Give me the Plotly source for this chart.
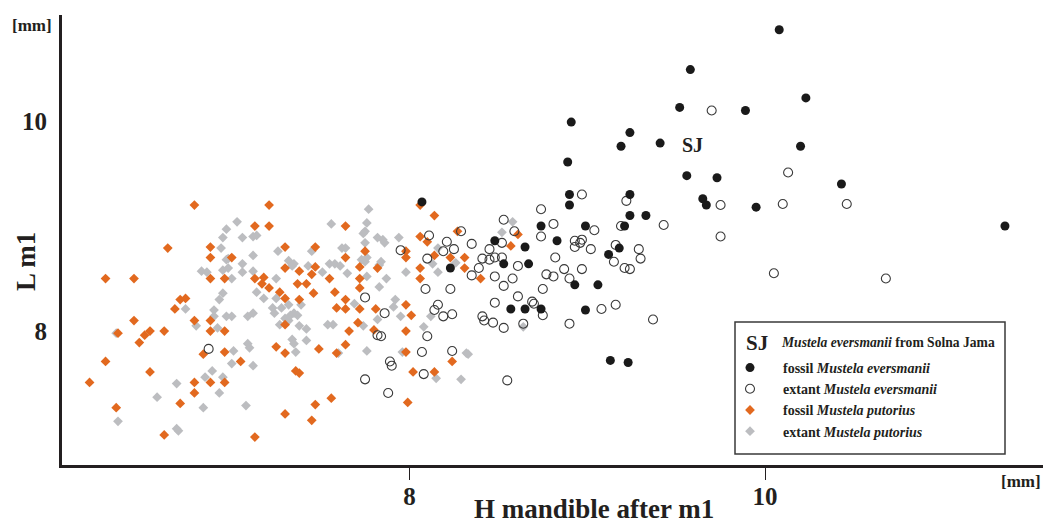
import plotly.graph_objects as go

# ---------------- data ----------------
# fossil Mustela eversmanii (filled black circles)
fe_x = [8.07, 8.23, 8.48, 8.65, 8.53, 8.67, 8.74, 8.83, 8.90, 8.90, 8.93, 8.57, 8.65, 8.74,
        9.13, 9.23, 9.24, 9.24, 9.33, 8.99, 9.21, 9.65, 9.67, 9.18, 9.12, 9.06, 8.99,
        10.08, 9.58, 10.23, 9.52, 9.89, 8.91, 9.24, 9.19, 9.41, 10.20, 9.56, 9.73, 10.43,
        9.95, 11.35, 8.89]
fe_y = [9.23, 8.60, 8.86, 8.80, 8.64, 8.64, 9.00, 8.86, 9.30, 9.20, 8.44, 8.21, 8.21, 8.21,
        7.72, 7.70, 9.30, 9.10, 9.10, 9.00, 9.00, 9.26, 9.20, 8.79, 8.73, 8.44, 8.20,
        10.87, 10.49, 10.22, 10.13, 10.10, 9.99, 9.89, 9.76, 9.79, 9.76, 9.48, 9.46, 9.40,
        9.18, 9.00, 9.61]

# extant Mustela eversmanii (open circles)
ee_x = [6.87, 7.95, 7.75, 7.86, 7.82, 7.84, 7.89, 7.90, 7.75, 7.88,
        8.74, 8.53, 8.81, 8.59, 8.74, 8.29, 8.11, 8.21, 8.35, 8.52, 8.93, 8.93,
        8.25, 8.19, 8.10, 8.45, 8.41, 8.45, 8.48, 8.52, 8.82, 8.61, 8.39, 8.35,
        8.48, 8.58, 8.77, 8.81, 8.87, 8.90, 8.53, 8.75, 8.09, 8.23, 8.61, 8.48,
        8.69, 8.70, 8.16, 8.14, 8.19, 8.24, 8.41, 8.42, 8.47, 8.53, 8.64, 8.75,
        8.90, 8.10, 8.07, 8.24, 8.08, 8.55,
        8.97, 9.22, 9.75, 9.19, 9.43, 9.04, 9.75, 8.97, 8.96, 9.02, 9.16, 9.29,
        9.30, 9.15, 9.21, 9.24, 8.97, 9.08, 9.16, 9.37,
        9.70, 10.13, 10.10, 10.46, 10.05, 10.68]
ee_y = [7.83, 8.77, 8.32, 8.17, 7.96, 7.95, 7.71, 7.67, 7.54, 7.41,
        9.16, 9.06, 9.02, 8.95, 8.90, 8.95, 8.91, 8.85, 8.83, 8.84, 8.86, 8.80,
        8.78, 8.76, 8.69, 8.78, 8.69, 8.68, 8.70, 8.70, 8.70, 8.62, 8.60, 8.53,
        8.52, 8.50, 8.54, 8.52, 8.59, 8.50, 8.43, 8.40, 8.40, 8.40, 8.33, 8.27,
        8.28, 8.26, 8.25, 8.20, 8.14, 8.16, 8.14, 8.10, 8.08, 8.03, 8.07, 8.15,
        8.07, 7.95, 7.80, 7.81, 7.59, 7.53,
        9.30, 9.24, 9.20, 9.00, 9.01, 8.96, 8.90, 8.87, 8.84, 8.78, 8.82, 8.78,
        8.69, 8.66, 8.60, 8.59, 8.59, 8.21, 8.25, 8.11,
        10.10, 9.51, 9.21, 9.21, 8.55, 8.50]

# fossil Mustela putorius (orange diamonds)
fp_x = [6.79, 6.64, 6.88, 6.88, 7.00, 6.29, 6.45, 6.88, 6.96, 6.71, 6.74, 6.68, 6.45, 6.79,
        6.88, 6.36, 6.54, 6.51, 6.48, 6.62, 6.88, 6.96, 6.84, 6.96, 6.29, 6.54, 6.20, 6.79,
        6.88, 6.96, 6.79, 6.71, 6.35, 6.62,
        7.21, 7.13, 7.21, 7.64, 7.30, 7.47, 7.64, 7.75, 7.98, 7.30, 7.38, 7.47, 7.45, 7.72,
        7.82, 7.13, 7.18, 7.17, 7.21, 7.27, 7.37, 7.42, 7.55, 7.72, 7.30, 7.38, 7.46, 7.58,
        7.72, 7.64, 7.59, 7.64, 7.72, 7.81, 7.98, 7.71, 7.30, 7.66, 7.80, 7.98, 7.25, 7.30,
        7.49, 7.59, 7.64, 7.98, 7.05, 7.36, 7.38, 7.47, 7.56, 7.30, 7.45, 7.13, 7.99,
        8.06, 8.14, 8.06, 8.10, 8.27, 7.98, 8.14, 8.23, 8.31, 8.31, 8.06, 8.06, 8.40, 8.57,
        8.61, 8.01, 8.24, 8.02, 8.14]
fp_y = [9.20, 8.79, 8.80, 8.70, 8.70, 8.50, 8.50, 8.50, 8.50, 8.30, 8.31, 8.21, 8.10, 8.10,
        8.10, 7.98, 8.00, 7.96, 7.89, 8.00, 8.00, 8.00, 7.78, 7.80, 7.71, 7.61, 7.51, 7.51,
        7.51, 7.51, 7.41, 7.31, 7.27, 7.01,
        9.20, 9.00, 9.00, 9.00, 8.80, 8.80, 8.70, 8.76, 8.70, 8.60, 8.57, 8.61, 8.54, 8.61,
        8.60, 8.50, 8.51, 8.45, 8.41, 8.37, 8.45, 8.45, 8.50, 8.50, 8.31, 8.30, 8.36, 8.37,
        8.41, 8.30, 8.22, 8.21, 8.21, 8.21, 8.25, 8.08, 8.06, 8.00, 8.01, 8.00, 7.85, 7.79,
        7.83, 7.79, 7.87, 7.80, 7.71, 7.62, 7.60, 7.30, 7.36, 7.21, 7.15, 6.99, 7.32,
        9.20, 9.10, 8.90, 8.85, 8.95, 8.76, 8.72, 8.70, 8.70, 8.60, 8.60, 8.50, 8.50, 8.81,
        8.92, 8.15, 7.71, 7.61, 7.61]

# extant Mustela putorius (grey diamonds)
ep_x = [7.03, 6.97, 6.95, 6.94, 6.97, 6.98, 6.83, 6.86, 6.95, 6.98, 7.00, 6.95, 6.93, 6.74,
        6.90, 6.90, 6.97, 7.00, 6.80, 6.92, 6.35, 7.01, 7.00, 6.89, 6.85, 6.95, 6.69, 6.93,
        6.58, 6.84, 6.36, 6.69, 6.70,
        7.77, 7.56, 7.76, 7.75, 7.74, 7.06, 7.12, 7.14, 7.82, 7.85, 7.86, 7.94, 7.75, 7.26,
        7.45, 7.62, 7.64, 7.12, 7.73, 7.75, 7.76, 7.84, 7.83, 7.06, 7.32, 7.35, 7.34, 7.43,
        7.51, 7.55, 7.58, 7.61, 7.65, 7.06, 7.12, 7.25, 7.76, 7.87, 7.98, 7.14, 7.18, 7.25,
        7.83, 7.39, 7.23, 7.28, 7.24, 7.32, 7.35, 7.33, 7.30, 7.32, 7.37, 7.27, 7.38, 7.42,
        7.54, 7.57, 7.69, 7.74, 7.92, 7.91, 7.95, 7.82, 7.09, 7.12, 7.34, 7.35, 7.42, 7.09,
        7.10, 7.36, 7.12, 7.60, 7.76, 7.96, 7.08,
        8.58, 8.52, 8.16, 8.16, 8.13, 8.26, 8.12, 8.08, 8.32, 8.33, 8.15, 8.29, 8.64]
ep_y = [9.04, 8.97, 8.89, 8.79, 8.68, 8.69, 8.57, 8.56, 8.58, 8.60, 8.50, 8.36, 8.30, 8.21,
        8.20, 8.14, 8.14, 8.14, 8.05, 8.03, 7.98, 7.81, 7.69, 7.62, 7.56, 7.56, 7.50, 7.41,
        7.37, 7.27, 7.14, 7.07, 7.05,
        9.16, 9.02, 9.03, 8.95, 8.93, 8.89, 8.90, 8.91, 8.89, 8.87, 8.84, 8.89, 8.84, 8.76,
        8.76, 8.79, 8.79, 8.72, 8.68, 8.66, 8.70, 8.66, 8.63, 8.64, 8.67, 8.64, 8.62, 8.62,
        8.56, 8.64, 8.64, 8.62, 8.55, 8.56, 8.57, 8.50, 8.52, 8.50, 8.56, 8.37, 8.31, 8.31,
        8.42, 8.25, 8.22, 8.22, 8.17, 8.25, 8.17, 8.15, 8.12, 8.10, 8.15, 8.06, 8.05, 8.02,
        8.06, 8.06, 8.26, 8.05, 8.30, 8.23, 8.14, 8.11, 8.14, 8.17, 7.92, 7.88, 7.91, 7.88,
        7.84, 7.80, 7.67, 7.79, 7.81, 7.80, 7.29,
        9.04, 8.94, 8.79, 8.56, 8.64, 8.65, 8.14, 8.04, 7.79, 7.78, 7.55, 7.54, 8.04]

x_ticks = [8, 10]
y_ticks = [8, 10]
sj_pos = (9.59, 9.77)  # "SJ" label location in data units

# ---------------- styling ----------------
SERIF = "Liberation Serif"
AX = "#231f20"
ORANGE = "#e2691f"
GREY = "#bcbdc0"

W, H = 1043, 525
ML, MR, MT, MB = 62, 0, 15, 60
PW, PH = W - ML - MR, H - MT - MB


def px(xp):
    return (xp - ML) / PW


def py(yp):
    return (H - MB - yp) / PH


fig = go.Figure()

fig.add_trace(go.Scatter(
    x=ep_x, y=ep_y, mode="markers", name="<b>extant <i>Mustela putorius</i></b>",
    marker=dict(symbol="diamond", size=7.5, color=GREY, line=dict(width=0)),
    legendrank=4))
fig.add_trace(go.Scatter(
    x=fp_x, y=fp_y, mode="markers", name="<b>fossil <i>Mustela putorius</i></b>",
    marker=dict(symbol="diamond", size=7.5, color=ORANGE, line=dict(width=0)),
    legendrank=3))
fig.add_trace(go.Scatter(
    x=ee_x, y=ee_y, mode="markers", name="<b>extant <i>Mustela eversmanii</i></b>",
    marker=dict(symbol="circle-open", size=9, color="#3a3a3a", line=dict(width=1.1)),
    legendrank=2))
fig.add_trace(go.Scatter(
    x=fe_x, y=fe_y, mode="markers", name="<b>fossil <i>Mustela eversmanii</i></b>",
    marker=dict(symbol="circle", size=9, color="#1a1a1a", line=dict(width=0)),
    legendrank=1))

annotations = [
    # SJ label in plot
    dict(x=sj_pos[0], y=sj_pos[1], xref="x", yref="y", text="<b>SJ</b>", showarrow=False,
         font=dict(family=SERIF, size=20, color=AX)),
    # axis titles
    dict(x=px(594), y=py(509), xref="paper", yref="paper", text="<b>H mandible after m1</b>",
         showarrow=False, font=dict(family=SERIF, size=27, color=AX),
         xanchor="center", yanchor="middle"),
    dict(x=px(26), y=py(262), xref="paper", yref="paper", text="<b>L m1</b>", textangle=-90,
         showarrow=False, font=dict(family=SERIF, size=27, color=AX),
         xanchor="center", yanchor="middle"),
    dict(x=px(32), y=py(25), xref="paper", yref="paper", text="<b>[mm]</b>",
         showarrow=False, font=dict(family=SERIF, size=17, color=AX),
         xanchor="center", yanchor="middle"),
    dict(x=px(1021), y=py(482), xref="paper", yref="paper", text="<b>[mm]</b>",
         showarrow=False, font=dict(family=SERIF, size=17, color=AX),
         xanchor="center", yanchor="middle"),
    # legend header row
    dict(x=px(744), y=py(343), xref="paper", yref="paper", text="<b>SJ</b>",
         showarrow=False, font=dict(family=SERIF, size=21, color=AX),
         xanchor="left", yanchor="middle"),
    dict(x=px(779), y=py(342), xref="paper", yref="paper",
         text="<b><i>Mustela eversmanii</i> from Solna Jama</b>",
         showarrow=False, font=dict(family=SERIF, size=13.6, color=AX),
         xanchor="left", yanchor="middle"),
]

shapes = [
    dict(type="rect", xref="paper", yref="paper", x0=px(735), x1=px(1005), y0=py(454), y1=py(322),
         line=dict(color="#3a3a3a", width=1.5), fillcolor="rgba(0,0,0,0)", layer="below"),
]

fig.update_layout(
    width=W, height=H,
    margin=dict(l=ML, r=MR, t=MT, b=MB, pad=0),
    paper_bgcolor="white", plot_bgcolor="white",
    showlegend=True,
    legend=dict(x=px(717), y=py(352), xanchor="left", yanchor="top",
                bgcolor="rgba(0,0,0,0)", borderwidth=0, itemwidth=56,
                traceorder="normal", itemsizing="trace",
                font=dict(family=SERIF, size=14, color=AX)),
    annotations=annotations,
    shapes=shapes,
    xaxis=dict(range=[6.045, 11.564], tickvals=x_ticks,
               ticktext=["<b>%d</b>" % v for v in x_ticks],
               showgrid=False, zeroline=False, showline=True, linewidth=3, linecolor=AX,
               ticks="outside", ticklen=12, tickwidth=1.3, tickcolor=AX,
               ticklabelstandoff=-5,
               tickfont=dict(family=SERIF, size=25, color=AX)),
    yaxis=dict(range=[6.724, 11.01], tickvals=y_ticks,
               ticktext=["<b>%d</b>" % v for v in y_ticks],
               showgrid=False, zeroline=False, showline=True, linewidth=3, linecolor=AX,
               ticks="", ticklabelstandoff=7,
               tickfont=dict(family=SERIF, size=25, color=AX)),
)

fig.write_html("out.html")
